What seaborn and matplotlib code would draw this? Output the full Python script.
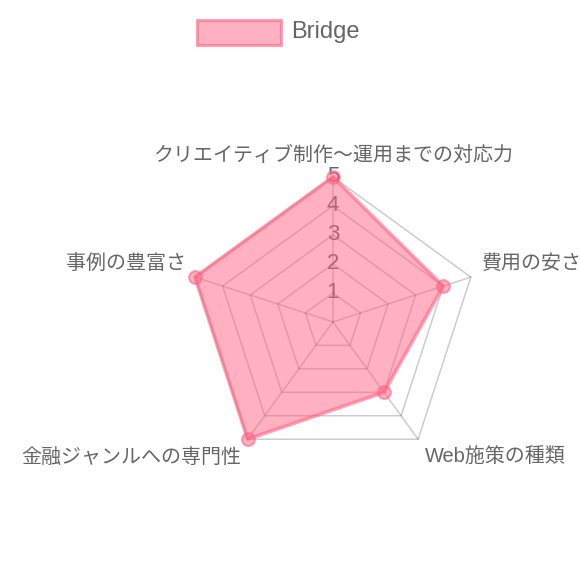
# radar chart: Bridge scores by category

import numpy as np
import pandas as pd
import matplotlib
matplotlib.use('Agg')
import matplotlib.pyplot as plt
import seaborn as sns

categories = ['クリエイティブ制作〜運用までの対応力', '費用の安さ', 'Web施策の種類',
              '金融ジャンルへの専門性', '事例の豊富さ']
scores = [5, 4, 3, 5, 5]
series_name = 'Bridge'
tick_values = [1, 2, 3, 4, 5]

sns.set_theme(style='white')
plt.rcParams['font.family'] = ['Liberation Sans', 'Noto Sans CJK JP', 'DejaVu Sans']

text_col = '#666666'
fill_col = (1.0, 99 / 255, 132 / 255, 0.5)
line_col = (1.0, 99 / 255, 132 / 255, 0.6)
grid_col = (0, 0, 0, 0.2)

n = len(categories)
angles = np.arange(n) * 2 * np.pi / n

df = pd.DataFrame({'category': categories, 'theta': angles, 'score': scores})

fig = plt.figure(figsize=(5.8, 5.8), dpi=100)
ax = fig.add_axes([0.324, 0.195, 0.5, 0.5], projection='polar')
ax.set_theta_offset(np.pi / 2)
ax.set_theta_direction(-1)
ax.set_ylim(0, 5)
ax.grid(False)
ax.spines['polar'].set_visible(False)
ax.set_xticks([])
ax.set_yticks([])
ax.patch.set_alpha(0)

# pentagon grid + spokes
closed = np.append(angles, angles[0])
for t in tick_values:
    ax.plot(closed, [t] * (n + 1), color=grid_col, lw=1.1, zorder=1, clip_on=False)
for a in angles:
    ax.plot([a, a], [0, 5], color=grid_col, lw=1.1, zorder=1, clip_on=False)

# tick labels along top spoke
for t in tick_values:
    ax.text(0, t, str(t), ha='center', va='center', fontsize=16,
            color=text_col, zorder=2)

# the series
vals = np.append(df['score'].values, df['score'].values[0])
ax.fill(closed, vals, color=fill_col, lw=0, zorder=3, clip_on=False)
ax.plot(closed, vals, color=line_col, lw=2.6, zorder=4, clip_on=False)
sns.scatterplot(data=df, x='theta', y='score', ax=ax, s=85, color=fill_col,
                edgecolor=line_col, linewidth=1.5, zorder=5, legend=False,
                clip_on=False)
ax.set_xlabel('')
ax.set_ylabel('')
ax.set_xticks([])
ax.set_yticks([])
ax.set_ylim(0, 5)

# category labels around the outside
label_pos = [((0, 8.5), 'center', 'bottom'),
             ((8, 10), 'left', 'center'),
             ((5, -13), 'left', 'center'),
             ((-4.5, -13), 'right', 'center'),
             ((-6.5, 10), 'right', 'center')]
for a, lab, (off, ha, va) in zip(angles, categories, label_pos):
    ax.annotate(lab, xy=(a, 5), xytext=off, textcoords='offset points',
                ha=ha, va=va, fontsize=14.4, color=text_col,
                annotation_clip=False)

# legend at top
fig.patches.append(plt.Rectangle((197 / 580, 1 - 45 / 580), 84 / 580, 25 / 580,
                                 transform=fig.transFigure, facecolor=fill_col,
                                 edgecolor=line_col, lw=2.2))
fig.text(291 / 580, 1 - 32 / 580, series_name, ha='left', va='center',
         fontsize=17, color=text_col)

fig.savefig('out.png', dpi=100)
